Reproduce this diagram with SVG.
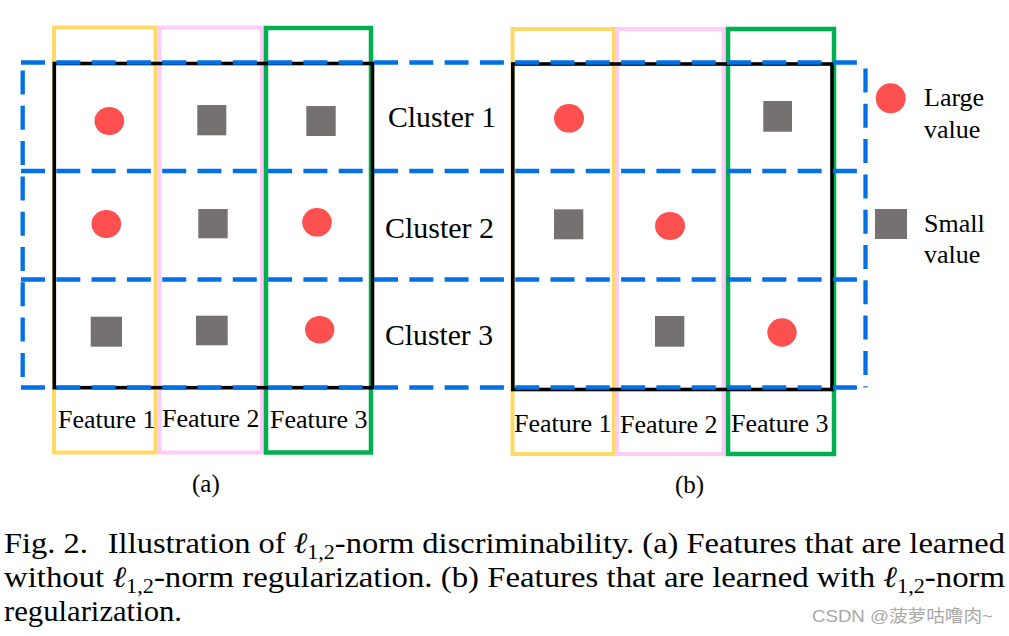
<svg xmlns="http://www.w3.org/2000/svg" width="1009" height="636" viewBox="0 0 1009 636">
<style>
.t{font-family:"Liberation Serif","Times New Roman",serif;fill:#000}
.feat{font-size:26px}
.clu{font-size:29.5px}
.cap{font-size:29.5px}
.fy{fill:none;stroke:#FFD966;stroke-width:4}
.fp{fill:none;stroke:#FFCCF8;stroke-width:4}
.fg{fill:none;stroke:#00B050;stroke-width:4.5}
.blk{fill:none;stroke:#000;stroke-width:3.6}
.bl{fill:none;stroke:#0070E6;stroke-width:4.3;stroke-dasharray:24 11.3}
.red{fill:#FF5050}
.gry{fill:#767171}
.wm{font-family:"Liberation Sans",Arial,"Noto Sans CJK SC",sans-serif;font-size:17px;fill:#A8A8A8}
</style>
<rect width="1009" height="636" fill="#fff"/>

<g id="panel-a-features">
<rect class="fy" x="54" y="27.5" width="101.5" height="425"/>
<rect class="fp" x="159.5" y="27.5" width="102.5" height="425"/>
<rect class="fg" x="266" y="28" width="105" height="424.5"/>
</g>
<g id="panel-b-features">
<rect class="fy" x="512.5" y="29" width="101.5" height="425"/>
<rect class="fp" x="617" y="29" width="106.5" height="425"/>
<rect class="fg" x="728" y="29" width="106" height="425"/>
</g>

<g id="panel-a-frame"><rect class="blk" x="54.3" y="63.5" width="318.2" height="324.2"/></g>
<g id="panel-b-frame"><rect class="blk" x="512.8" y="64" width="319.2" height="325.5"/></g>

<g id="connectors">
<path class="bl" d="M21 62.5H866"/>
<path class="bl" d="M21 171H866"/>
<path class="bl" d="M21 279.5H866"/>
<path class="bl" d="M21 387.5H866"/>
<path class="bl" d="M22.7 62.5V387.5" style="stroke-dashoffset:-8"/>
<path class="bl" d="M865.5 62.5V387.5" style="stroke-dashoffset:-6"/>
</g>

<g id="panel-a-cells">
<ellipse class="red" cx="109.3" cy="121" rx="14.8" ry="14"/>
<rect class="gry" x="197.3" y="105" width="29" height="30.3"/>
<rect class="gry" x="306.3" y="106" width="29.4" height="30"/>
<ellipse class="red" cx="106.3" cy="224" rx="14.8" ry="14"/>
<rect class="gry" x="198.3" y="209" width="29.4" height="29.3"/>
<ellipse class="red" cx="317" cy="222.3" rx="14.8" ry="14.3"/>
<rect class="gry" x="90.7" y="316.7" width="31.3" height="30"/>
<rect class="gry" x="196" y="315.7" width="31.7" height="29.6"/>
<ellipse class="red" cx="319.7" cy="329.7" rx="14.7" ry="13.7"/>
</g>

<g id="panel-b-cells">
<ellipse class="red" cx="569" cy="118.3" rx="15" ry="14.3"/>
<rect class="gry" x="763.3" y="101" width="28.7" height="30.7"/>
<rect class="gry" x="554" y="209.3" width="29.3" height="30"/>
<ellipse class="red" cx="670" cy="226" rx="15" ry="14"/>
<rect class="gry" x="655" y="316" width="29.3" height="30.7"/>
<ellipse class="red" cx="782" cy="332.5" rx="14.7" ry="14.2"/>
</g>

<g id="cluster-labels">
<text class="t clu" x="388" y="127" textLength="108" lengthAdjust="spacingAndGlyphs">Cluster 1</text>
<text class="t clu" x="385" y="238" textLength="109" lengthAdjust="spacingAndGlyphs">Cluster 2</text>
<text class="t clu" x="385" y="345" textLength="108" lengthAdjust="spacingAndGlyphs">Cluster 3</text>
</g>

<g id="feature-labels-a">
<text class="t feat" x="58" y="428">Feature 1</text>
<text class="t feat" x="162" y="426.7">Feature 2</text>
<text class="t feat" x="270" y="428">Feature 3</text>
</g>
<g id="feature-labels-b">
<text class="t feat" x="514" y="431.7">Feature 1</text>
<text class="t feat" x="620" y="433">Feature 2</text>
<text class="t feat" x="731" y="431.7">Feature 3</text>
</g>

<g id="legend">
<circle class="red" cx="890.7" cy="98.3" r="15"/>
<text class="t feat" x="924" y="106">Large</text>
<text class="t feat" x="924" y="138">value</text>
<rect class="gry" x="875" y="209" width="32" height="30"/>
<text class="t feat" x="924" y="232">Small</text>
<text class="t feat" x="924" y="263">value</text>
</g>

<g id="subfig-labels">
<text class="t" font-size="25" x="192" y="492">(a)</text>
<text class="t" font-size="25" x="675" y="493">(b)</text>
</g>

<g id="caption">
<text class="t cap" x="4" y="553" textLength="1001" lengthAdjust="spacingAndGlyphs">Fig. 2.<tspan dx="18">Illustration of </tspan><tspan font-style="italic">ℓ</tspan><tspan font-size="20" dy="6">1,2</tspan><tspan dy="-6">-norm discriminability. (a) Features that are learned</tspan></text>
<text class="t cap" x="4" y="587" textLength="1001" lengthAdjust="spacingAndGlyphs">without <tspan font-style="italic">ℓ</tspan><tspan font-size="20" dy="6">1,2</tspan><tspan dy="-6">-norm regularization. (b) Features that are learned with </tspan><tspan font-style="italic">ℓ</tspan><tspan font-size="20" dy="6">1,2</tspan><tspan dy="-6">-norm</tspan></text>
<text class="t cap" x="4" y="621" textLength="178" lengthAdjust="spacingAndGlyphs">regularization.</text>
</g>

<text class="wm" x="812" y="621.5" textLength="181" lengthAdjust="spacingAndGlyphs">CSDN @菠萝咕噜肉~</text>
</svg>
